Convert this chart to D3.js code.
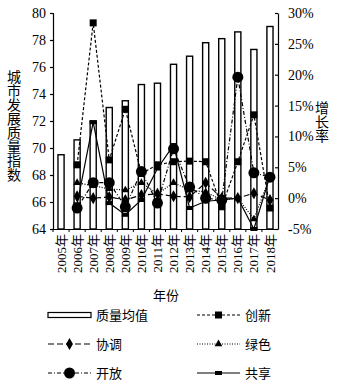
<!DOCTYPE html>
<html>
<head>
<meta charset="utf-8">
<script src="https://cdn.jsdelivr.net/npm/d3@7"></script>
<style>
  body { margin: 0; background: #fff; }
  svg text { font-family: "Liberation Serif", "Noto Sans CJK SC", serif; fill: #000; }
</style>
</head>
<body>
<div id="chart"></div>
<script>
const years = ["2005年", "2006年", "2007年", "2008年", "2009年", "2010年", "2011年",
  "2012年", "2013年", "2014年", "2015年", "2016年", "2017年", "2018年"];

// 质量均值 (left axis)
const qualityMean = [69.5, 70.6, 72.0, 73.0, 73.5, 74.7, 74.8, 76.2, 76.8, 77.8, 78.1, 78.6, 77.3, 79.0];

// growth rates in % (right axis), no value for 2005
const innovation = [null, 5.4, 28.4, 6.2, 14.4, 4.0, 5.4, 5.9, 6.0, 5.9, -1.4, 5.9, 13.5, -1.6];
const coordination = [null, 0.3, 0.0, 0.2, -0.3, 0.5, 0.7, 0.3, 0.2, 2.5, 0.0, 0.0, 0.8, -0.3];
const green = [null, 2.5, 2.0, 1.5, 1.3, 2.5, 0.7, 2.5, 1.3, 1.0, -0.3, 0.0, -3.4, 3.5];
const openness = [null, -1.6, 2.5, 2.5, -1.4, 4.3, -0.8, 8.0, 1.8, 0.0, -0.3, 19.6, 4.1, 3.4];
const sharing = [null, -1.0, 12.3, -0.8, -2.7, -0.3, 4.8, 8.6, -1.6, -0.5, -0.3, 0.0, -5.0, 3.6];

const leftTicks = [64, 66, 68, 70, 72, 74, 76, 78, 80];
const rightTicks = [-5, 0, 5, 10, 15, 20, 25, 30];

const seriesList = [
  { name: "创新", values: innovation, dash: "3,2", marker: "square" },
  { name: "协调", values: coordination, dash: "6,3", marker: "diamond" },
  { name: "绿色", values: green, dash: "1,1.5", marker: "triangle" },
  { name: "开放", values: openness, dash: "4,2,1,2", marker: "circle" },
  { name: "共享", values: sharing, dash: null, marker: "bar" }
];

const width = 337;
const height = 388;
const margin = { top: 13, right: 59, bottom: 159, left: 53 };
const innerWidth = width - margin.left - margin.right;
const innerHeight = height - margin.top - margin.bottom;

const svg = d3.select("#chart")
  .append("svg")
  .attr("width", width)
  .attr("height", height);

const chart = svg.append("g")
  .attr("transform", `translate(${margin.left},${margin.top})`);

const x = d3.scaleBand()
  .domain(years)
  .range([0, innerWidth])
  .paddingInner(0.62)
  .paddingOuter(0.31);

const yLeft = d3.scaleLinear().domain([64, 80]).range([innerHeight, 0]);
const yRight = d3.scaleLinear().domain([-5, 30]).range([innerHeight, 0]);
const cx = (year) => x(year) + x.bandwidth() / 2;

// bars
chart.selectAll("rect.bar")
  .data(qualityMean.map((value, i) => ({ year: years[i], value })))
  .enter()
  .append("rect")
  .attr("class", "bar")
  .attr("x", (d) => x(d.year))
  .attr("y", (d) => yLeft(d.value))
  .attr("width", x.bandwidth())
  .attr("height", (d) => innerHeight - yLeft(d.value))
  .attr("fill", "#fff")
  .attr("stroke", "#000")
  .attr("stroke-width", 1.4);

function drawMarker(g, type, px, py) {
  if (type === "square") {
    g.append("rect").attr("x", px - 3.5).attr("y", py - 3.5).attr("width", 7).attr("height", 7).attr("fill", "#000");
  } else if (type === "diamond") {
    g.append("path").attr("d", d3.symbol(d3.symbolDiamond, 42)()).attr("transform", `translate(${px},${py})`).attr("fill", "#000");
  } else if (type === "triangle") {
    g.append("path").attr("d", d3.symbol(d3.symbolTriangle, 26)()).attr("transform", `translate(${px},${py})`).attr("fill", "#000");
  } else if (type === "circle") {
    g.append("circle").attr("cx", px).attr("cy", py).attr("r", 5.5).attr("fill", "#000");
  } else {
    g.append("rect").attr("x", px - 3.5).attr("y", py - 2).attr("width", 7).attr("height", 4).attr("fill", "#000");
  }
}

const line = d3.line()
  .defined((d) => d.value !== null)
  .x((d) => cx(d.year))
  .y((d) => yRight(d.value));

seriesList.forEach((s) => {
  const points = s.values.map((value, i) => ({ year: years[i], value }));
  const g = chart.append("g");
  g.append("path")
    .datum(points)
    .attr("d", line)
    .attr("fill", "none")
    .attr("stroke", "#000")
    .attr("stroke-width", 1.2)
    .attr("stroke-dasharray", s.dash);
  points.filter((d) => d.value !== null)
    .forEach((d) => drawMarker(g, s.marker, cx(d.year), yRight(d.value)));
});

// left axis
chart.append("g")
  .attr("font-size", 14)
  .call(d3.axisLeft(yLeft).tickValues(leftTicks).tickSize(3).tickPadding(4))
  .attr("font-size", 14)
  .attr("font-family", null)
  .call((g) => g.selectAll("line, path").attr("stroke", "#000").attr("stroke-width", 1.2));

// right axis
chart.append("g")
  .attr("transform", `translate(${innerWidth},0)`)
  .call(d3.axisRight(yRight).tickValues(rightTicks).tickSize(-3).tickSizeOuter(0).tickPadding(10)
    .tickFormat((d) => `${d}%`))
  .attr("font-size", 14)
  .attr("font-family", null)
  .call((g) => g.selectAll("line, path").attr("stroke", "#000").attr("stroke-width", 1.2));

// bottom axis, ticks at category boundaries
const xAxis = chart.append("g")
  .attr("transform", `translate(0,${innerHeight})`)
  .call(d3.axisBottom(x).tickSize(0).tickSizeOuter(0).tickPadding(0))
  .attr("font-size", 13)
  .attr("font-family", null);
xAxis.select(".domain").attr("stroke", "#000").attr("stroke-width", 1.2);
xAxis.selectAll(".tick text")
  .attr("text-anchor", "end")
  .attr("y", 0)
  .attr("dy", "0.35em")
  .attr("transform", "translate(0,5) rotate(-90)");
xAxis.selectAll("line.bound")
  .data(years)
  .enter()
  .append("line")
  .attr("class", "bound")
  .attr("x1", (d) => cx(d) - x.step() / 2)
  .attr("x2", (d) => cx(d) - x.step() / 2)
  .attr("y1", 0)
  .attr("y2", 3)
  .attr("stroke", "#000");

// axis titles
svg.append("text")
  .attr("x", 166)
  .attr("y", 300)
  .attr("text-anchor", "middle")
  .attr("font-size", 13)
  .text("年份");

Array.from("城市发展质量指数").forEach((ch, i) => {
  svg.append("text")
    .attr("x", 14)
    .attr("y", 82 + i * 14)
    .attr("text-anchor", "middle")
    .attr("font-size", 14)
    .text(ch);
});

Array.from("增长率").forEach((ch, i) => {
  svg.append("text")
    .attr("x", 322)
    .attr("y", 113 + i * 14)
    .attr("text-anchor", "middle")
    .attr("font-size", 14)
    .text(ch);
});

// legend
const legendItems = [
  { name: "质量均值", col: 0, row: 0 },
  { name: "创新", col: 1, row: 0, s: seriesList[0] },
  { name: "协调", col: 0, row: 1, s: seriesList[1] },
  { name: "绿色", col: 1, row: 1, s: seriesList[2] },
  { name: "开放", col: 0, row: 2, s: seriesList[3] },
  { name: "共享", col: 1, row: 2, s: seriesList[4] }
];
const legendX = [48, 197];
const legendY = [315, 344, 373];

legendItems.forEach((item) => {
  const lx = legendX[item.col];
  const ly = legendY[item.row];
  const g = svg.append("g");
  if (!item.s) {
    g.append("rect")
      .attr("x", lx).attr("y", ly - 2.5).attr("width", 43).attr("height", 5)
      .attr("fill", "#fff").attr("stroke", "#000").attr("stroke-width", 1.2);
  } else {
    g.append("line")
      .attr("x1", lx).attr("x2", lx + 43).attr("y1", ly).attr("y2", ly)
      .attr("stroke", "#000").attr("stroke-width", 1.1)
      .attr("stroke-dasharray", item.s.dash);
    drawMarker(g, item.s.marker, lx + 21.5, ly);
  }
  g.append("text")
    .attr("x", lx + 48)
    .attr("y", ly + 5)
    .attr("font-size", 13)
    .text(item.name);
});
</script>
</body>
</html>
